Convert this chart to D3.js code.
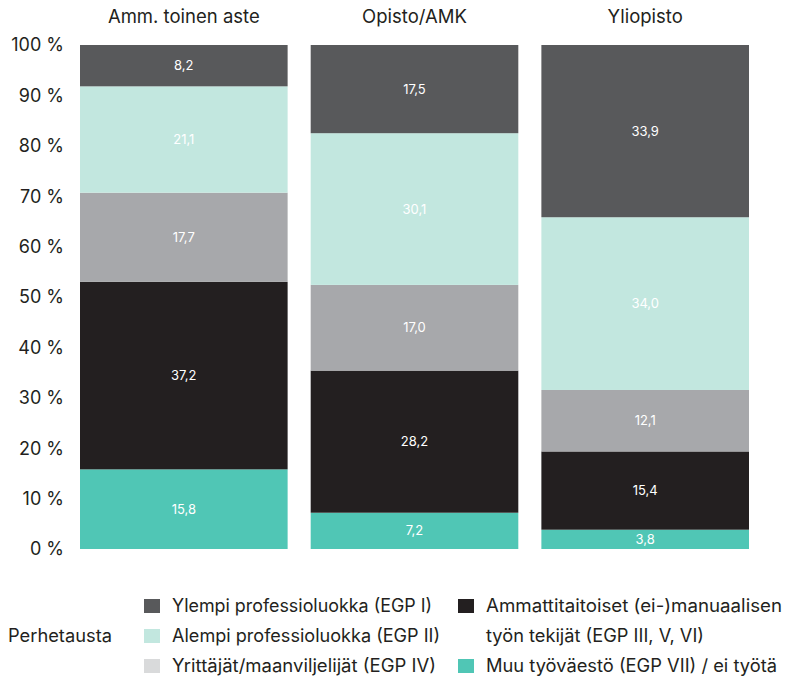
<!DOCTYPE html>
<html lang="fi">
<head>
<meta charset="UTF-8">
<title>Perhetausta koulutusasteittain</title>
<style>
  body { margin: 0; background: #fff; }
  text { font-family: Inter, "Noto Sans", sans-serif; }
</style>
</head>
<body>
<script src="https://d3js.org/d3.v7.min.js"></script>
<script>
// data
const categories = ["Amm. toinen aste", "Opisto/AMK", "Yliopisto"];
const seriesNames = [
  "Muu työväestö (EGP VII) / ei työtä",
  "Ammattitaitoiset (ei-)manuaalisen työn tekijät (EGP III, V, VI)",
  "Yrittäjät/maanviljelijät (EGP IV)",
  "Alempi professioluokka (EGP II)",
  "Ylempi professioluokka (EGP I)"
];
const muu = [15.8, 7.2, 3.8];
const ammattitaitoiset = [37.2, 28.2, 15.4];
const yrittajat = [17.7, 17.0, 12.1];
const alempi = [21.1, 30.1, 34.0];
const ylempi = [8.2, 17.5, 33.9];
const yTicks = [0, 10, 20, 30, 40, 50, 60, 70, 80, 90, 100];

const colors = ["#50c6b5", "#231f20", "#a7a8ab", "#c2e7df", "#58595b"];
const legendColors = ["#50c6b5", "#231f20", "#d9dadb", "#c2e7df", "#58595b"];

const width = 785, height = 681;
const margin = {top: 45, left: 80, right: 36, bottom: 132};

const svg = d3.select("body").append("svg")
  .attr("width", width)
  .attr("height", height);

const keys = ["muu", "amm", "yri", "ale", "yle"];
const rows = categories.map((c, i) => ({
  cat: c, muu: muu[i], amm: ammattitaitoiset[i], yri: yrittajat[i], ale: alempi[i], yle: ylempi[i]
}));

const stacked = d3.stack().keys(keys).offset(d3.stackOffsetExpand)(rows);

const x = d3.scaleBand()
  .domain(categories)
  .range([margin.left, width - margin.right])
  .paddingInner(0.1)
  .paddingOuter(0);

const y = d3.scaleLinear()
  .domain([0, 1])
  .range([height - margin.bottom, margin.top]);

// bars
const groups = svg.selectAll("g.series").data(stacked).enter().append("g")
  .attr("class", "series")
  .attr("fill", (d, i) => colors[i]);

groups.selectAll("rect").data(d => d).enter().append("rect")
  .attr("x", d => x(d.data.cat))
  .attr("width", x.bandwidth())
  .attr("y", d => y(d[1]))
  .attr("height", d => y(d[0]) - y(d[1]));

// value labels
const fmt = v => v.toFixed(1).replace(".", ",");
stacked.forEach((s, i) => {
  svg.selectAll(null).data(s).enter().append("text")
    .attr("x", d => x(d.data.cat) + x.bandwidth() / 2)
    .attr("y", d => (y(d[0]) + y(d[1])) / 2)
    .attr("dy", "0.35em")
    .attr("text-anchor", "middle")
    .attr("fill", "#fff")
    .attr("font-size", 13)
    .text(d => fmt(d.data[keys[i]]));
});

// y axis labels
svg.selectAll("text.ytick").data(yTicks).enter().append("text")
  .attr("class", "ytick")
  .attr("x", 64)
  .attr("y", d => y(d / 100))
  .attr("dy", "0.35em")
  .attr("text-anchor", "end")
  .attr("fill", "#231f20")
  .attr("font-size", 18)
  .text(d => d + " %");

// category titles
svg.selectAll("text.cat").data(categories).enter().append("text")
  .attr("class", "cat")
  .attr("x", d => x(d) + x.bandwidth() / 2)
  .attr("y", 23)
  .attr("text-anchor", "middle")
  .attr("fill", "#231f20")
  .attr("font-size", 18.5)
  .text(d => d);

// legend
svg.append("text")
  .attr("x", 8).attr("y", 636).attr("dy", "0.35em")
  .attr("font-size", 18).attr("fill", "#231f20")
  .attr("textLength", 104).attr("lengthAdjust", "spacingAndGlyphs")
  .text("Perhetausta");

const legendItems = [
  {i: 4, col: 0, row: 0, lines: [seriesNames[4]], w: [260]},
  {i: 3, col: 0, row: 1, lines: [seriesNames[3]], w: [268]},
  {i: 2, col: 0, row: 2, lines: [seriesNames[2]], w: [264]},
  {i: 1, col: 1, row: 0, lines: ["Ammattitaitoiset (ei-)manuaalisen", "työn tekijät (EGP III, V, VI)"], w: [296, 218]},
  {i: 0, col: 1, row: 2, lines: [seriesNames[0]], w: [291]}
];
const colX = [144, 458];
const rowY = [606, 636, 666];

legendItems.forEach(it => {
  const g = svg.append("g");
  g.append("rect")
    .attr("x", colX[it.col]).attr("y", rowY[it.row] - 7)
    .attr("width", 16).attr("height", 14)
    .attr("fill", legendColors[it.i]);
  it.lines.forEach((l, k) => {
    g.append("text")
      .attr("x", colX[it.col] + 28)
      .attr("y", rowY[it.row + k])
      .attr("dy", "0.35em")
      .attr("font-size", 18)
      .attr("fill", "#231f20")
      .attr("textLength", it.w[k])
      .attr("lengthAdjust", "spacingAndGlyphs")
      .text(l);
  });
});
</script>
</body>
</html>
